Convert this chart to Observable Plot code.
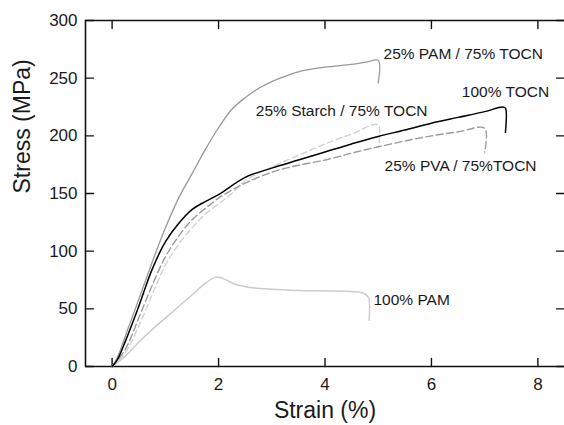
<!DOCTYPE html>
<html>
<head>
<meta charset="utf-8">
<script src="https://cdn.jsdelivr.net/npm/d3@7"></script>
<script src="https://cdn.jsdelivr.net/npm/@observablehq/plot@0.6"></script>
<style>
  html, body { margin: 0; padding: 0; background: #fff; }
  svg { display: block; }
</style>
</head>
<body>
<div id="chart"></div>
<script>
// ---- Data ----
const pamTocnStrain = [0, 0.1, 0.3, 0.5, 0.75, 1.0, 1.25, 1.5, 1.75, 2.0, 2.25, 2.5, 2.75, 3.0, 3.25, 3.5, 4.0, 4.5, 4.78, 5.0, 5.0];
const pamTocnStress = [0, 8, 33, 58, 90, 120, 146, 167, 188, 207, 223, 233, 241, 247, 251.5, 255.5, 259.5, 262, 264, 265.5, 246];

const tocnStrain = [0, 0.1, 0.25, 0.5, 0.75, 1.0, 1.25, 1.5, 1.75, 2.0, 2.5, 3.0, 3.5, 4.0, 4.5, 5.0, 5.5, 6.0, 6.5, 7.0, 7.34, 7.39, 7.39];
const tocnStress = [0, 6, 22, 52, 84, 108, 124, 136, 143, 149, 164, 172, 179, 186, 193, 199.5, 205, 211, 216, 221, 225, 224, 203];

const starchStrain = [0, 0.25, 0.5, 0.75, 1.0, 1.25, 1.5, 1.75, 2.0, 2.25, 2.5, 3.0, 3.5, 4.0, 4.5, 5.0, 5.0];
const starchStress = [0, 12, 35, 62, 88, 106, 120, 132, 141, 150, 161, 173, 183, 193, 201.5, 209.5, 190];

const pvaStrain = [0, 0.25, 0.5, 0.75, 1.0, 1.25, 1.5, 1.75, 2.0, 2.25, 2.5, 3.0, 3.5, 4.0, 4.5, 5.0, 5.5, 6.0, 6.5, 7.0, 7.0];
const pvaStress = [0, 15, 42, 70, 95, 113, 127, 137, 146, 153, 159, 168.5, 174.5, 179, 185, 190.5, 195.5, 200, 203.5, 206.5, 186];

const pamStrain = [0, 0.25, 0.5, 0.75, 1.0, 1.25, 1.5, 1.75, 1.95, 2.1, 2.3, 2.6, 3.0, 3.5, 4.0, 4.5, 4.7, 4.8, 4.83, 4.83];
const pamStress = [0, 9, 21, 32, 42, 52, 62, 72, 77.5, 76, 71.5, 68.5, 67, 66, 65.5, 65, 64, 61, 58, 40];

const labelTexts = ["25% PAM / 75% TOCN", "100% TOCN", "25% Starch / 75% TOCN", "25% PVA / 75%TOCN", "100% PAM"];
const labelStrain = [5.10, 6.57, 2.70, 5.12, 4.91];
const labelStress = [270.9, 237.7, 221.3, 173.8, 57.9];

const xTicks = [0, 2, 4, 6, 8];
const yTicks = [0, 50, 100, 150, 200, 250, 300];
const xMin = -0.5, xMax = 8.5, yMin = 0, yMax = 300;

// ---- Build tables ----
const toRows = (xs, ys) => xs.map((x, i) => ({strain: x, stress: ys[i]}));
const series = [
  {rows: toRows(starchStrain, starchStress), stroke: "#cfcfcf", dash: "6,3.5", width: 1.3},
  {rows: toRows(pvaStrain, pvaStress), stroke: "#9a9a9a", dash: "7,3.5", width: 1.4},
  {rows: toRows(pamStrain, pamStress), stroke: "#cccccc", dash: null, width: 1.5},
  {rows: toRows(pamTocnStrain, pamTocnStress), stroke: "#999999", dash: null, width: 1.3},
  {rows: toRows(tocnStrain, tocnStress), stroke: "#000000", dash: null, width: 1.5}
];
const labels = labelTexts.map((t, i) => ({text: t, strain: labelStrain[i], stress: labelStress[i]}));

const font = "'Liberation Sans', Arial, Helvetica, sans-serif";
const tickShape = {draw(context, l) { context.moveTo(0, 0); context.lineTo(0, l); }};
const tickOpts = {length: 8, anchor: "start", shape: tickShape, stroke: "#111", strokeWidth: 1.4};

const chart = Plot.plot({
  width: 564,
  height: 425,
  marginLeft: 85,
  marginRight: 0,
  marginTop: 20,
  marginBottom: 59,
  style: {fontFamily: font, color: "#1a1a1a", background: "#fff"},
  x: {domain: [xMin, xMax]},
  y: {domain: [yMin, yMax]},
  marks: [
    // frame lines (left, bottom, top)
    Plot.ruleX([xMin], {stroke: "#111", strokeWidth: 1.6}),
    Plot.ruleY([yMin, yMax], {stroke: "#111", strokeWidth: 1.6}),
    // inward ticks
    Plot.vector(xTicks, {...tickOpts, x: d => d, y: yMin, rotate: 180}),
    Plot.vector(xTicks, {...tickOpts, x: d => d, y: yMax, rotate: 0}),
    Plot.vector(yTicks, {...tickOpts, x: xMin, y: d => d, rotate: -90}),
    Plot.vector(yTicks, {...tickOpts, x: xMax, y: d => d, rotate: 90}),
    // tick labels
    Plot.axisX(xTicks, {anchor: "bottom", tickSize: 0, tickPadding: 11, fontSize: 17, label: null}),
    Plot.axisY(yTicks, {anchor: "left", tickSize: 0, tickPadding: 8, fontSize: 17, label: null}),
    // curves
    ...series.map(s => Plot.line(s.rows, {
      x: "strain", y: "stress", stroke: s.stroke, strokeWidth: s.width,
      strokeDasharray: s.dash, curve: "catmull-rom"
    })),
    // curve labels
    Plot.text(labels, {x: "strain", y: "stress", text: "text", textAnchor: "start", fontSize: 15.5, fill: "#1a1a1a"}),
    // axis titles
    Plot.text(["Strain (%)"], {frameAnchor: "bottom", dy: 51, fontSize: 23, fill: "#1a1a1a"}),
    Plot.text(["Stress (MPa)"], {frameAnchor: "left", dx: -63, rotate: -90, fontSize: 23, fill: "#1a1a1a"})
  ]
});
document.getElementById("chart").appendChild(chart);
</script>
</body>
</html>
